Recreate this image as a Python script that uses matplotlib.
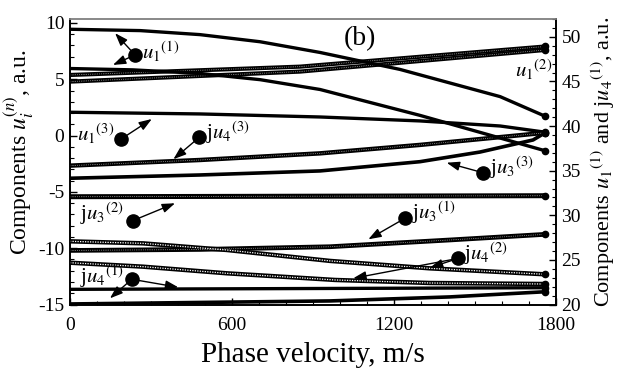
import numpy as np
import matplotlib
matplotlib.use("Agg")
import matplotlib.pyplot as plt
from matplotlib.ticker import MultipleLocator

plt.rcParams['font.family'] = ['Liberation Serif', 'DejaVu Serif']
plt.rcParams['mathtext.fontset'] = 'stix'
plt.rcParams['axes.unicode_minus'] = False

# phase velocity (m/s) and component values
# right axis: u1(1) (two branches) and ju4(1) (two branches)
v_a = [0, 260, 481, 704, 926, 1222, 1593, 1760]
u1_1a = [50.85, 50.7, 50.25, 49.45, 48.25, 46.35, 43.3, 41.1]
v_b = [0, 233, 481, 704, 926, 1296, 1760]
u1_1b = [46.45, 46.3, 45.9, 45.2, 44.1, 41.2, 37.23]
v_k = [0, 1760]
ju4_1a = [21.70, 21.88]
v_l = [0, 963, 1407, 1760]
ju4_1b = [20.06, 20.40, 20.85, 21.43]

# left axis
v_c = [0, 852, 1760]
u1_2a = [5.38, 6.12, 7.91]
u1_2b = [4.79, 5.68, 7.60]
v_d = [0, 481, 926, 1296, 1593, 1760]
u1_3 = [2.07, 1.92, 1.65, 1.30, 0.85, 0.30]
v_e = [0, 481, 926, 1296, 1760]
ju4_3 = [-2.67, -2.17, -1.58, -0.83, 0.25]
v_f = [0, 481, 926, 1296, 1519, 1715, 1760]
ju3_3 = [-3.79, -3.50, -3.14, -2.32, -1.46, -0.39, 0.25]
v_g = [0, 1760]
ju3_2 = [-5.43, -5.34]
v_h = [0, 270, 581, 963, 1333, 1760]
ju4_2a = [-9.39, -9.57, -10.16, -11.13, -11.79, -12.32]
v_i = [0, 481, 963, 1407, 1760]
ju3_1 = [-10.20, -10.11, -9.87, -9.27, -8.77]
v_j = [0, 270, 581, 981, 1333, 1760]
ju4_2b = [-11.29, -11.64, -12.23, -12.82, -13.09, -13.18]


def draw(ax, v, y, lw, textured=False, hollow=False):
    ax.plot(v, y, color='black', lw=lw, solid_capstyle='butt',
            solid_joinstyle='round', zorder=3)
    if textured or hollow:
        ax.plot(v, y, color='white', lw=0.6 if textured else 0.9,
                dashes=(0.6, 1.6) if textured else (1.0, 1.0), zorder=4)
    ax.plot(v[-1], y[-1], 'o', color='black', ms=4.5, zorder=5)


fig = plt.figure(figsize=(6.24, 3.71), dpi=100)
ax = fig.add_axes([70 / 624, 1 - 304.5 / 371, 486 / 624, 285.5 / 371])
ax2 = ax.twinx()

draw(ax, v_c, u1_2a, 3.0, textured=True)
draw(ax, v_c, u1_2b, 3.0, textured=True)
draw(ax, v_d, u1_3, 2.4)
draw(ax, v_e, ju4_3, 3.2, textured=True)
draw(ax, v_f, ju3_3, 2.6)
draw(ax, v_g, ju3_2, 3.6, textured=True)
draw(ax, v_h, ju4_2a, 3.2, hollow=True)
draw(ax, v_i, ju3_1, 3.4, textured=True)
draw(ax, v_j, ju4_2b, 3.2, hollow=True)

draw(ax2, v_a, u1_1a, 2.4)
draw(ax2, v_b, u1_1b, 2.4)
draw(ax2, v_k, ju4_1a, 2.4)
draw(ax2, v_l, ju4_1b, 2.6)

ax.set_xlim(0, 1800)
ax.set_ylim(-15, 10.35)
ax2.set_ylim(20, 52)

ax.xaxis.set_major_locator(MultipleLocator(600))
ax.xaxis.set_minor_locator(MultipleLocator(100))
ax.yaxis.set_major_locator(MultipleLocator(5))
ax.yaxis.set_minor_locator(MultipleLocator(1))
ax2.yaxis.set_major_locator(MultipleLocator(5))
ax2.yaxis.set_minor_locator(MultipleLocator(1))

for a in (ax, ax2):
    a.tick_params(which='major', direction='in', length=5, width=1, labelsize=14)
    a.tick_params(which='minor', direction='in', length=3, width=0.8)
    for s in a.spines.values():
        s.set_linewidth(1.2)
    a.spines['top'].set_color('#888888')
ax.tick_params(axis='x', which='both', top=False, pad=9)
ax.tick_params(axis='y', pad=4)
ax2.tick_params(axis='y', pad=4)

ax.set_xlabel('Phase velocity, m/s', fontsize=21, labelpad=6)
ax.set_ylabel('Components $u_i^{(n)}$, a.u.', fontsize=17)
ax.yaxis.set_label_coords(-0.07, 0.535)
ax2.set_ylabel('Components ${u_1}^{(1)}$ and j${u_4}^{(1)}$, a.u.', fontsize=16, labelpad=6)

# annotations: dot, arrow tips, label (in left-axis data coordinates)
notes = [
    ('${u_1}^{(1)}$', (241, 7.16), [(167, 9.09), (159, 6.27)], (268, 7.45), 'left'),
    ('${u_1}^{(3)}$', (188, -0.33), [(303, 1.47)], (165, 0.1), 'right'),
    ('j${u_4}^{(3)}$', (479, -0.15), [(383, -2.10)], (505, 0.25), 'left'),
    ('j${u_3}^{(3)}$', (1528, -3.29), [(1395, -2.41)], (1554, -2.88), 'left'),
    ('j${u_3}^{(2)}$', (232, -7.56), [(389, -6.01)], (200, -6.96), 'right'),
    ('j${u_3}^{(1)}$', (1241, -7.34), [(1105, -9.21)], (1265, -6.87), 'left'),
    ('j${u_4}^{(2)}$', (1437, -10.91), [(1333, -11.73), (1049, -12.67)], (1461, -10.51), 'left'),
    ('j${u_4}^{(1)}$', (229, -12.76), [(401, -13.47), (148, -14.45)], (200, -12.5), 'right'),
]
for label, dot, tips, pos, ha in notes:
    for tip in tips:
        ax.annotate('', xy=tip, xytext=dot, zorder=6,
                    arrowprops=dict(arrowstyle='-|>,head_length=0.7,head_width=0.25',
                                    color='black', lw=1.0, shrinkA=0, shrinkB=0,
                                    mutation_scale=11))
    ax.plot(*dot, 'o', color='black', ms=9.5, zorder=7)
    ax.text(pos[0], pos[1], label, ha=ha, va='center', fontsize=15, zorder=7)

ax.text(1785, 5.83, '${u_1}^{(2)}$', ha='right', va='center', fontsize=15)
ax.text(1074, 8.58, '(b)', ha='center', va='center', fontsize=20)

fig.savefig('out.png', dpi=100)
